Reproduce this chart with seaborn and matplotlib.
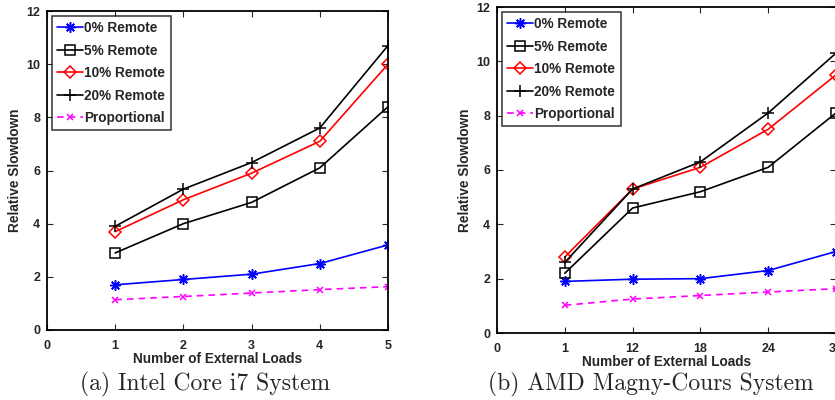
import matplotlib
matplotlib.use("Agg")
import matplotlib.pyplot as plt
import seaborn as sns

# Data: relative slowdown vs number of external loads
x_pos = [1, 2, 3, 4, 5]

intel_ticklabels = ["0", "1", "2", "3", "4", "5"]
intel_remote0 = [1.7, 1.9, 2.1, 2.5, 3.2]
intel_remote5 = [2.9, 4.0, 4.8, 6.1, 8.4]
intel_remote10 = [3.7, 4.9, 5.9, 7.1, 10.0]
intel_remote20 = [3.9, 5.3, 6.3, 7.6, 10.7]
intel_proportional = [1.14, 1.26, 1.39, 1.52, 1.63]

amd_ticklabels = ["0", "1", "12", "18", "24", "30"]
amd_remote0 = [1.9, 1.98, 2.0, 2.3, 3.0]
amd_remote5 = [2.2, 4.6, 5.2, 6.1, 8.1]
amd_remote10 = [2.8, 5.3, 6.1, 7.5, 9.5]
amd_remote20 = [2.6, 5.3, 6.3, 8.1, 10.3]
amd_proportional = [1.02, 1.25, 1.38, 1.51, 1.63]

series_labels = ["0% Remote", "5% Remote", "10% Remote", "20% Remote", "Proportional"]
y_ticks = [0, 2, 4, 6, 8, 10, 12]

sns.set_style("ticks")
plt.rcParams["font.family"] = ["Liberation Sans", "DejaVu Sans"]
plt.rcParams["font.weight"] = "bold"

styles = [
    dict(color="#0000ff", marker=(8, 2, 0), markersize=7.5, linestyle="-",
         markerfacecolor="none", markeredgecolor="#0000ff", markeredgewidth=1.1),
    dict(color="black", marker="s", markersize=6.5, linestyle="-",
         markerfacecolor="none", markeredgecolor="black", markeredgewidth=1.1),
    dict(color="#ff0000", marker="D", markersize=6, linestyle="-",
         markerfacecolor="none", markeredgecolor="#ff0000", markeredgewidth=1.1),
    dict(color="black", marker="+", markersize=8.5, linestyle="-",
         markerfacecolor="none", markeredgecolor="black", markeredgewidth=1.1),
    dict(color="#ff00ff", marker="x", markersize=5, linestyle=(0, (4, 3)),
         markerfacecolor="none", markeredgecolor="#ff00ff", markeredgewidth=1.1),
]

fig = plt.figure(figsize=(8.35, 4.0), dpi=100)
ax_a = fig.add_axes([47 / 835, 1 - 330 / 400, 341 / 835, 319 / 400])
ax_b = fig.add_axes([497 / 835, 1 - 333 / 400, 339 / 835, 326 / 400])


def draw_panel(ax, series, ticklabels, caption, caption_x):
    for values, label, st in zip(series, series_labels, styles):
        sns.lineplot(x=x_pos, y=values, ax=ax, label=label, linewidth=1.2, **st)
    ax.set_xlim(0, 5)
    ax.set_ylim(0, 12)
    ax.set_xticks(range(6))
    ax.set_xticklabels(ticklabels)
    ax.set_yticks(y_ticks)
    ax.tick_params(direction="in", length=4, width=0.8, top=True, right=True,
                   labelsize=9)
    ax.tick_params(axis="x", pad=7)
    ax.tick_params(axis="y", pad=5)
    for lab in ax.get_xticklabels() + ax.get_yticklabels():
        lab.set_fontweight("bold")
    for sp in ax.spines.values():
        sp.set_visible(True)
        sp.set_linewidth(1.3)
        sp.set_color("black")
    ax.set_xlabel("Number of External Loads", fontsize=9.8, fontweight="bold", labelpad=0)
    ax.set_ylabel("Relative Slowdown", fontsize=9.8, fontweight="bold", labelpad=3)
    leg = ax.legend(loc="upper left", frameon=True, fancybox=False,
                    borderaxespad=0.35, handlelength=1.9, handletextpad=0.1,
                    labelspacing=0.62, borderpad=0.4,
                    prop=dict(weight="bold", size=9.8))
    leg.get_frame().set_edgecolor("black")
    leg.get_frame().set_linewidth(1.1)
    fig.text(caption_x, 1 - 384 / 400, caption, ha="center", va="center",
             fontsize=17, family="cmr10", fontweight="normal")


draw_panel(ax_a,
           [intel_remote0, intel_remote5, intel_remote10, intel_remote20, intel_proportional],
           intel_ticklabels, "(a) Intel Core i7 System", 205 / 835)
draw_panel(ax_b,
           [amd_remote0, amd_remote5, amd_remote10, amd_remote20, amd_proportional],
           amd_ticklabels, "(b) AMD Magny-Cours System", 651 / 835)

fig.savefig("out.png", dpi=100)
